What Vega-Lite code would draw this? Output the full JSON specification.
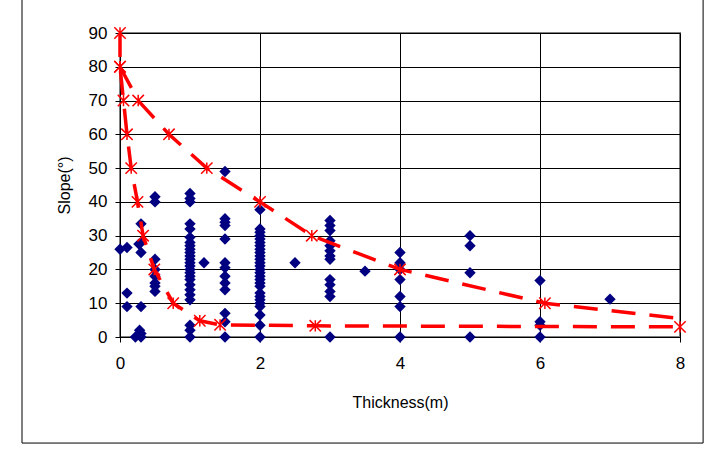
{
  "$schema": "https://vega.github.io/schema/vega-lite/v6.json",
  "autosize": "none",
  "width": 560,
  "height": 304,
  "padding": {"left": 120, "top": 33, "right": 32, "bottom": 113},
  "background": "white",
  "config": {
    "font": "Liberation Sans",
    "view": {"stroke": "#808080", "strokeWidth": 2},
    "axis": {
      "domainColor": "black",
      "domainWidth": 1,
      "tickColor": "black",
      "tickSize": 5,
      "gridColor": "black",
      "gridWidth": 1,
      "gridOpacity": 1,
      "labelFont": "Liberation Sans",
      "labelFontSize": 17,
      "labelColor": "black",
      "labelFlush": false,
      "labelOverlap": false,
      "titleFont": "Liberation Sans",
      "titleFontSize": 16,
      "titleFontWeight": "normal",
      "titleColor": "black"
    }
  },
  "datasets": {
    "pts": [
      {"x": 0, "y": 26}, {"x": 0.1, "y": 26.5}, {"x": 0.1, "y": 13}, {"x": 0.1, "y": 9},
      {"x": 0.3, "y": 33.5}, {"x": 0.3, "y": 28}, {"x": 0.27, "y": 27.5}, {"x": 0.3, "y": 25}, {"x": 0.3, "y": 9}, {"x": 0.28, "y": 2}, {"x": 0.22, "y": 0}, {"x": 0.3, "y": 0}, {"x": 0.3, "y": 1},
      {"x": 0.5, "y": 41.5}, {"x": 0.5, "y": 40}, {"x": 0.5, "y": 23}, {"x": 0.5, "y": 20}, {"x": 0.5, "y": 18}, {"x": 0.5, "y": 16}, {"x": 0.5, "y": 15}, {"x": 0.5, "y": 13.5},
      {"x": 1, "y": 42.5}, {"x": 1, "y": 41}, {"x": 1, "y": 40}, {"x": 1, "y": 33.5}, {"x": 1, "y": 32}, {"x": 1, "y": 29.5}, {"x": 1, "y": 28}, {"x": 1, "y": 27}, {"x": 1, "y": 26}, {"x": 1, "y": 25}, {"x": 1, "y": 24}, {"x": 1, "y": 23}, {"x": 1, "y": 22}, {"x": 1, "y": 21}, {"x": 1, "y": 20}, {"x": 1, "y": 19}, {"x": 1, "y": 18}, {"x": 1, "y": 17}, {"x": 1, "y": 15.5}, {"x": 1, "y": 14}, {"x": 1, "y": 12.5}, {"x": 1, "y": 11}, {"x": 1, "y": 3.5}, {"x": 1, "y": 2}, {"x": 1, "y": 0},
      {"x": 1.2, "y": 22},
      {"x": 1.5, "y": 49}, {"x": 1.5, "y": 35}, {"x": 1.5, "y": 34}, {"x": 1.5, "y": 33}, {"x": 1.5, "y": 29}, {"x": 1.5, "y": 22}, {"x": 1.5, "y": 20.5}, {"x": 1.5, "y": 18}, {"x": 1.5, "y": 16}, {"x": 1.5, "y": 14}, {"x": 1.5, "y": 7}, {"x": 1.5, "y": 4.5}, {"x": 1.5, "y": 0},
      {"x": 2, "y": 37.7}, {"x": 2, "y": 32}, {"x": 2, "y": 31}, {"x": 2, "y": 30}, {"x": 2, "y": 29}, {"x": 2, "y": 28}, {"x": 2, "y": 27}, {"x": 2, "y": 26}, {"x": 2, "y": 25}, {"x": 2, "y": 24}, {"x": 2, "y": 23}, {"x": 2, "y": 22}, {"x": 2, "y": 21}, {"x": 2, "y": 20}, {"x": 2, "y": 19}, {"x": 2, "y": 18}, {"x": 2, "y": 17}, {"x": 2, "y": 16}, {"x": 2, "y": 15}, {"x": 2, "y": 13}, {"x": 2, "y": 12}, {"x": 2, "y": 11}, {"x": 2, "y": 10}, {"x": 2, "y": 9}, {"x": 2, "y": 6.5}, {"x": 2, "y": 3.5}, {"x": 2, "y": 0},
      {"x": 2.5, "y": 22},
      {"x": 3, "y": 34.5}, {"x": 3, "y": 33}, {"x": 3, "y": 31.5}, {"x": 3, "y": 28.5}, {"x": 3, "y": 27}, {"x": 3, "y": 25.5}, {"x": 3, "y": 24}, {"x": 3, "y": 23}, {"x": 3, "y": 17}, {"x": 3, "y": 15.5}, {"x": 3, "y": 13.5}, {"x": 3, "y": 12}, {"x": 3, "y": 0},
      {"x": 3.5, "y": 19.5},
      {"x": 4, "y": 25}, {"x": 4, "y": 22}, {"x": 4, "y": 20}, {"x": 4, "y": 17}, {"x": 4, "y": 12}, {"x": 4, "y": 9}, {"x": 4, "y": 0},
      {"x": 5, "y": 30}, {"x": 5, "y": 27}, {"x": 5, "y": 19}, {"x": 5, "y": 0},
      {"x": 6, "y": 16.7}, {"x": 6, "y": 4.5}, {"x": 6, "y": 3.5}, {"x": 6, "y": 0},
      {"x": 7, "y": 11.2}
    ],
    "lines": [
      {"s": "A", "i": 1, "x": 0, "y": 80},
      {"s": "A", "i": 2, "x": 0.26, "y": 70},
      {"s": "A", "i": 3, "x": 0.7, "y": 60},
      {"s": "A", "i": 4, "x": 1.24, "y": 50},
      {"s": "A", "i": 5, "x": 2, "y": 40},
      {"s": "A", "i": 6, "x": 2.74, "y": 30},
      {"s": "A", "i": 7, "x": 4, "y": 20},
      {"s": "A", "i": 8, "x": 6.07, "y": 10},
      {"s": "A", "i": 9, "x": 8, "y": 5.5},
      {"s": "B", "i": 1, "x": 0, "y": 90},
      {"s": "B", "i": 2, "x": 0, "y": 80},
      {"s": "B", "i": 3, "x": 0.05, "y": 70},
      {"s": "B", "i": 4, "x": 0.1, "y": 60},
      {"s": "B", "i": 5, "x": 0.16, "y": 50},
      {"s": "B", "i": 6, "x": 0.25, "y": 40},
      {"s": "B", "i": 7, "x": 0.33, "y": 30},
      {"s": "B", "i": 8, "x": 0.49, "y": 20},
      {"s": "B", "i": 9, "x": 0.76, "y": 10},
      {"s": "B", "i": 10, "x": 1.14, "y": 4.8},
      {"s": "B", "i": 11, "x": 1.43, "y": 3.6},
      {"s": "B", "i": 12, "x": 2.79, "y": 3.3},
      {"s": "B", "i": 13, "x": 8, "y": 3}
    ]
  },
  "layer": [
    {
      "data": {"name": "pts"},
      "mark": {"type": "point", "shape": "diamond", "filled": true, "color": "#000080", "size": 130, "opacity": 1},
      "encoding": {
        "x": {
          "field": "x", "type": "quantitative",
          "scale": {"domain": [0, 8], "nice": false, "zero": false},
          "axis": {
            "values": [0, 2, 4, 6, 8],
            "format": "d",
            "title": "Thickness(m)",
            "labelPadding": 13,
            "titlePadding": 23,
            "grid": true
          }
        },
        "y": {
          "field": "y", "type": "quantitative",
          "scale": {"domain": [0, 90], "nice": false, "zero": false},
          "axis": {
            "tickCount": 10,
            "format": "d",
            "title": "Slope(°)",
            "labelPadding": 8,
            "titlePadding": 16,
            "grid": true
          }
        }
      }
    },
    {
      "data": {"name": "lines"},
      "mark": {"type": "line", "color": "#FF0000", "strokeWidth": 3.5, "strokeDash": [24, 14]},
      "encoding": {
        "x": {"field": "x", "type": "quantitative"},
        "y": {"field": "y", "type": "quantitative"},
        "detail": {"field": "s"},
        "order": {"field": "i"}
      }
    },
    {
      "data": {"name": "lines"},
      "transform": [{"filter": "datum.y != 5.5"}],
      "mark": {"type": "point", "shape": "M-1,-1L1,1M-1,1L1,-1M0,-1L0,1", "filled": false, "stroke": "#FF0000", "strokeWidth": 1.5, "size": 130, "opacity": 1},
      "encoding": {
        "x": {"field": "x", "type": "quantitative"},
        "y": {"field": "y", "type": "quantitative"}
      }
    },
    {
      "data": {"values": [{}]},
      "mark": {"type": "rect", "fill": null, "stroke": "black", "strokeWidth": 1, "clip": false},
      "encoding": {
        "x": {"datum": -1.4, "type": "quantitative"},
        "x2": {"datum": 8.33},
        "y": {"datum": -31.4, "type": "quantitative"},
        "y2": {"datum": 100.6}
      }
    }
  ]
}
